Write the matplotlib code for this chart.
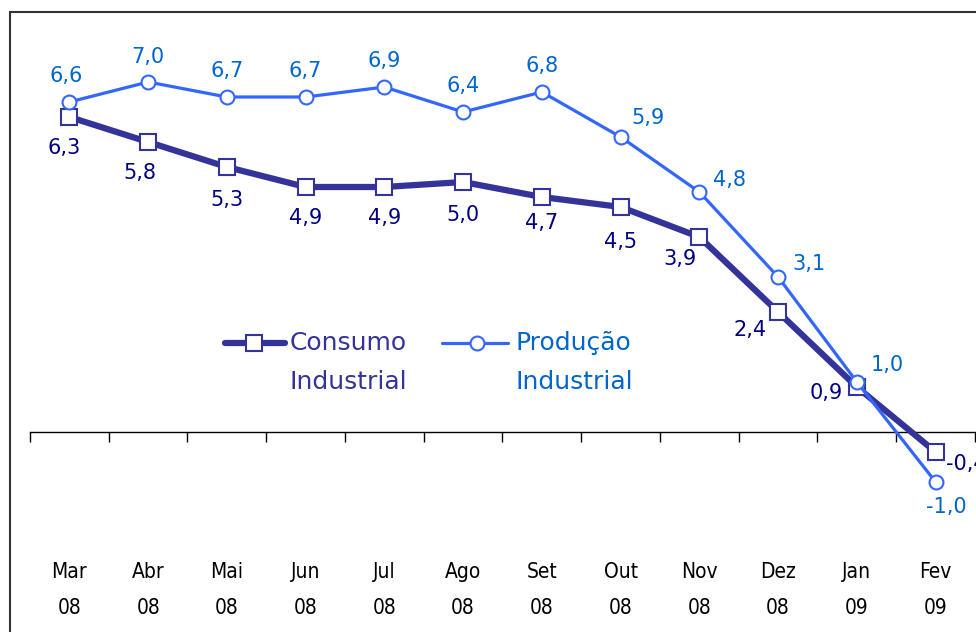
import matplotlib
matplotlib.use("Agg")
import matplotlib.pyplot as plt
from matplotlib.lines import Line2D
from matplotlib.patches import Rectangle

months = ["Mar", "Abr", "Mai", "Jun", "Jul", "Ago", "Set", "Out", "Nov", "Dez", "Jan", "Fev"]
years = ["08", "08", "08", "08", "08", "08", "08", "08", "08", "08", "09", "09"]
consumo = [6.3, 5.8, 5.3, 4.9, 4.9, 5.0, 4.7, 4.5, 3.9, 2.4, 0.9, -0.4]
producao = [6.6, 7.0, 6.7, 6.7, 6.9, 6.4, 6.8, 5.9, 4.8, 3.1, 1.0, -1.0]

# label offsets in points (dx, dy)
consumo_off = [(-4, -22), (-6, -22), (0, -24), (0, -22), (0, -22), (0, -24), (0, -19),
               (0, -25), (-14, -16), (-20, -13), (-22, -4), (22, -9)]
producao_off = [(-2, 19), (0, 18), (0, 19), (0, 19), (0, 19), (0, 19), (0, 19),
                (20, 14), (22, 9), (22, 9), (22, 12), (8, -18)]

c_line = "#333399"
c_lab = "#000080"
p_line = "#3366FF"
p_lab = "#0066CC"

fig = plt.figure(figsize=(9.76, 6.32), dpi=100)
ax = fig.add_axes([30 / 976, 0, 945 / 976, 600 / 632])
x = list(range(len(months)))

ax.plot(x, consumo, color=c_line, lw=4.5, marker="s", ms=11, mfc="white",
        mec=c_line, mew=1.5, zorder=3, solid_joinstyle="round")
ax.plot(x, producao, color=p_line, lw=2.3, marker="o", ms=10, mfc="white",
        mec=p_line, mew=1.5, zorder=4)

for i, v in enumerate(consumo):
    ax.annotate(f"{v:.1f}".replace(".", ","), (i, v), xytext=consumo_off[i],
                textcoords="offset points", ha="center", va="center",
                fontsize=15, color=c_lab)
for i, v in enumerate(producao):
    ax.annotate(f"{v:.1f}".replace(".", ","), (i, v), xytext=producao_off[i],
                textcoords="offset points", ha="center", va="center",
                fontsize=15, color=p_lab)

ax.set_xlim(-0.5, 11.5)
ax.set_ylim(-4, 8)
for s in ["top", "right", "left"]:
    ax.spines[s].set_visible(False)
ax.spines["bottom"].set_position(("data", 0))
ax.spines["bottom"].set_linewidth(1.0)
ax.set_yticks([])
ax.set_xticks([i - 0.5 for i in range(13)])
ax.set_xticklabels([])
ax.tick_params(axis="x", direction="out", length=7, width=1)
ax.patch.set_visible(False)

for i, (m, yy) in enumerate(zip(months, years)):
    ax.text(i, -2.8, m, ha="center", va="center", fontsize=15,
            family="DejaVu Sans", fontstretch="condensed", color="black")
    ax.text(i, -3.52, yy, ha="center", va="center", fontsize=15,
            family="DejaVu Sans", fontstretch="condensed", color="black")

# legend drawn by hand (figure coordinates)
W, H = 976, 632
fig.add_artist(Line2D([225 / W, 285 / W], [1 - 343 / H] * 2, color=c_line, lw=4.5,
                      solid_capstyle="round"))
fig.add_artist(Line2D([254 / W], [1 - 343 / H], color=c_line, marker="s", ms=11,
                      mfc="white", mec=c_line, mew=1.5))
fig.text(290 / W, 1 - 343 / H, "Consumo", fontsize=18, color=c_line, va="center")
fig.text(290 / W, 1 - 382 / H, "Industrial", fontsize=18, color=c_line, va="center")
fig.add_artist(Line2D([442 / W, 508 / W], [1 - 343 / H] * 2, color=p_line, lw=2.3,
                      solid_capstyle="round"))
fig.add_artist(Line2D([477 / W], [1 - 343 / H], color=p_line, marker="o", ms=10,
                      mfc="white", mec=p_line, mew=1.5))
fig.text(515 / W, 1 - 343 / H, "Produção", fontsize=18, color=p_lab, va="center")
fig.text(515 / W, 1 - 382 / H, "Industrial", fontsize=18, color=p_lab, va="center")

fig.patches.append(Rectangle((10 / W, -0.1), 1.2, 0.1 + 620 / H, transform=fig.transFigure,
                             fill=False, ec="#333333", lw=1.5))

fig.savefig("out.png", dpi=100)
